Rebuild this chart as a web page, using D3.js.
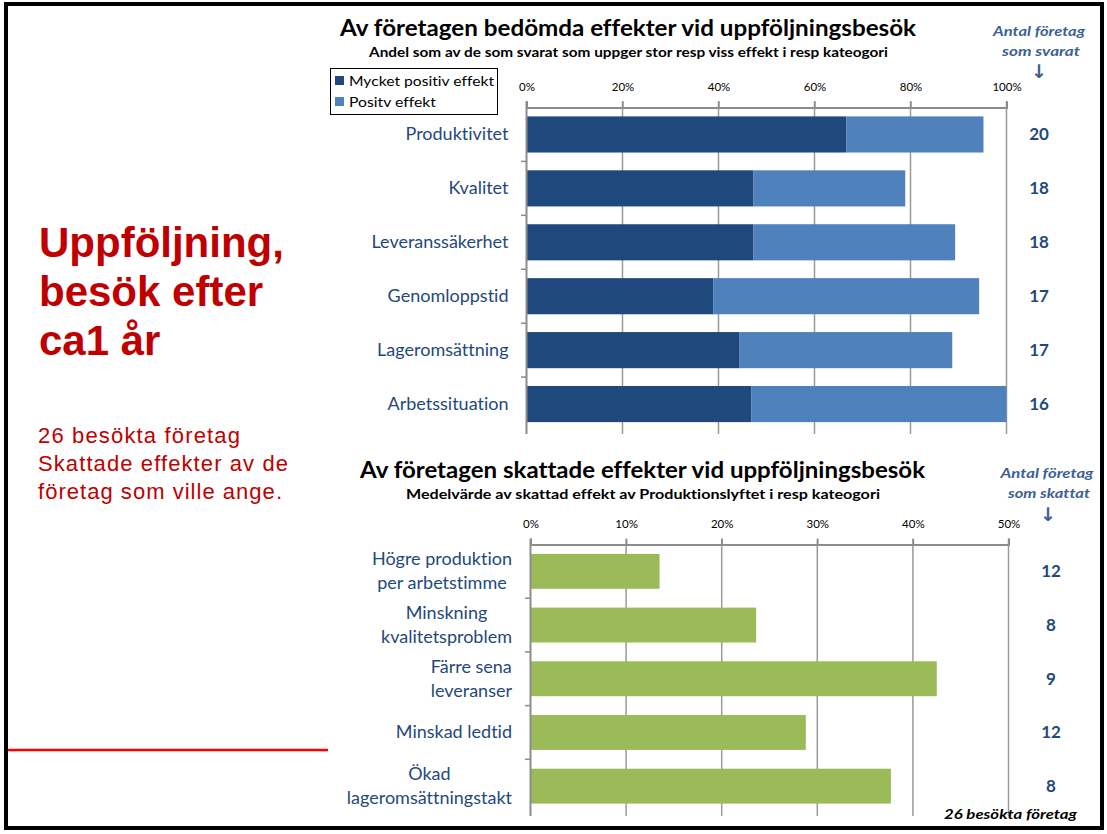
<!DOCTYPE html>
<html><head><meta charset="utf-8">
<script src="https://cdn.jsdelivr.net/npm/d3@7"></script>
<style>
html,body{margin:0;padding:0;background:#fff;}
svg{display:block;}
text{font-variant-ligatures:none;}
</style></head>
<body>
<svg id="c" width="1107" height="834"></svg>
<script>
// ---- data ----
const topCategories = ["Produktivitet","Kvalitet","Leveranssäkerhet","Genomloppstid","Lageromsättning","Arbetssituation"];
const veryPositive = [0.666, 0.473, 0.473, 0.389, 0.444, 0.468];
const positive     = [0.286, 0.316, 0.420, 0.554, 0.443, 0.532];
const topCounts    = [20, 18, 18, 17, 17, 16];
const topTicks     = [0, 0.2, 0.4, 0.6, 0.8, 1.0];
const seriesNames  = ["Mycket positiv effekt", "Positv effekt"];

const bottomCategories = [["Högre produktion","per arbetstimme"],["Minskning","kvalitetsproblem"],["Färre sena","leveranser"],["Minskad ledtid"],["Ökad","lageromsättningstakt"]];
const bottomValues = [0.135, 0.236, 0.425, 0.288, 0.377];
const bottomCounts = [12, 8, 9, 12, 8];
const bottomTicks  = [0, 0.1, 0.2, 0.3, 0.4, 0.5];

// ---- styling ----
const FONT = "Lato, 'Open Sans', sans-serif";
const DARK = "#1F497D", LIGHT = "#4F81BD", GREEN = "#9BBB59";
const LABEL = "#1F497D", HEAD = "#3B5F96";
const svg = d3.select("#c");

// frame
svg.append("rect").attr("x",6).attr("y",4).attr("width",1096).attr("height",824)
  .attr("fill","none").attr("stroke","#000").attr("stroke-width",4);
svg.append("line").attr("x1",8).attr("x2",328).attr("y1",750).attr("y2",750)
  .attr("stroke","#FF0000").attr("stroke-width",2.5);

// left text
const big = ["Uppföljning,","besök efter","ca1 år"];
svg.selectAll("text.big").data(big).join("text").attr("class","big")
  .attr("x",39).attr("y",(d,i)=>257+i*49)
  .attr("fill","#C00000").attr("font-family","'Liberation Sans', Arial, sans-serif")
  .attr("font-weight","bold").attr("font-size",42).text(d=>d);
const small = ["26 besökta företag","Skattade effekter av de","företag som ville ange."];
const smallW = [202, 250, 244];
svg.selectAll("text.small").data(small).join("text").attr("class","small")
  .attr("x",38).attr("y",(d,i)=>443+i*28)
  .attr("fill","#C00000").attr("font-family","'Liberation Sans', Arial, sans-serif")
  .attr("font-size",22).attr("textLength",(d,i)=>smallW[i]).attr("lengthAdjust","spacing").text(d=>d);

function title(t, x, y, size, w, color, italic){
  return svg.append("text").attr("x",x).attr("y",y).attr("text-anchor","middle")
    .attr("font-family",FONT).attr("font-weight","bold").attr("font-size",size)
    .attr("font-style",italic?"italic":"normal")
    .attr("fill",color||"#000").attr("textLength",w).attr("lengthAdjust","spacingAndGlyphs").text(t);
}
function arrow(x, y){
  svg.append("text").attr("x",x).attr("y",y).attr("text-anchor","middle").attr("fill",HEAD)
    .attr("font-family","'DejaVu Sans', sans-serif").attr("font-weight","bold").attr("font-size",19).text("↓");
}

// ---------- top chart ----------
const tx = d3.scaleLinear().domain([0,1]).range([526.5,1006.5]);
const ty = d3.scaleBand().domain(topCategories).range([107.5,431]).paddingInner(0.33).paddingOuter(0.165);
const tyTicks = d3.scaleBand().domain(topCategories).range([107.5,431]);

title("Av företagen bedömda effekter vid uppföljningsbesök", 628, 36, 23, 576);
title("Andel som av de som svarat som uppger stor resp viss effekt i resp kateogori", 628.5, 57, 13, 519);
title("Antal företag", 1039, 36, 14, 92, HEAD, true);
title("som svarat", 1041, 56, 14, 78, HEAD, true);
arrow(1039, 78);

// gridlines
const gTop = svg.append("g");
gTop.selectAll("line.grid").data(topTicks.slice(1)).join("line")
  .attr("x1",d=>tx(d)).attr("x2",d=>tx(d)).attr("y1",101).attr("y2",434)
  .attr("stroke","#9a9a9a").attr("stroke-width",1.5);
// x axis (top)
const axT = gTop.append("g").attr("transform","translate(0,107.5)")
  .call(d3.axisTop(tx).tickValues(topTicks).tickFormat(d3.format(".0%")).tickSize(6).tickPadding(11));
axT.select(".domain").attr("stroke","#8c8c8c").attr("stroke-width",2);
axT.selectAll(".tick line").attr("stroke","#8c8c8c").attr("stroke-width",1.5);
axT.selectAll("text").attr("font-family",FONT).attr("font-size",11.5).attr("fill","#000");

// bars
const stack = topCategories.map((c,i)=>({c, a:veryPositive[i], b:positive[i]}));
gTop.selectAll("rect.d").data(stack).join("rect")
  .attr("x",tx(0)).attr("y",d=>ty(d.c)).attr("width",d=>tx(d.a)-tx(0)).attr("height",ty.bandwidth())
  .attr("fill",DARK);
gTop.selectAll("rect.l").data(stack).join("rect")
  .attr("x",d=>tx(d.a)).attr("y",d=>ty(d.c)).attr("width",d=>tx(d.a+d.b)-tx(d.a)).attr("height",ty.bandwidth())
  .attr("fill",LIGHT);

// y axis
const ayT = gTop.append("g").attr("transform","translate(526.5,0)")
  .call(d3.axisLeft(tyTicks).tickSize(0).tickPadding(18));
ayT.select(".domain").attr("stroke","#8c8c8c").attr("stroke-width",2).attr("d","M0,101V434");
ayT.selectAll("text").attr("font-family",FONT).attr("font-size",18).attr("fill",LABEL);
gTop.selectAll("line.yt").data(topCategories.slice(1)).join("line")
  .attr("x1",521).attr("x2",526.5).attr("y1",d=>tyTicks(d)).attr("y2",d=>tyTicks(d))
  .attr("stroke","#8c8c8c").attr("stroke-width",1.5);

// counts
gTop.selectAll("text.cnt").data(topCategories).join("text")
  .attr("x",1039).attr("y",d=>ty(d)+ty.bandwidth()/2+6).attr("text-anchor","middle")
  .attr("font-family",FONT).attr("font-weight","bold").attr("font-size",17).attr("fill",LABEL)
  .text((d,i)=>topCounts[i]);

// legend
const lg = svg.append("g");
lg.append("rect").attr("x",330.5).attr("y",68.5).attr("width",167).attr("height",46)
  .attr("fill","#fff").attr("stroke","#000").attr("stroke-width",1);
lg.selectAll("rect.sw").data(seriesNames).join("rect")
  .attr("x",335).attr("y",(d,i)=>76+i*21).attr("width",9).attr("height",9)
  .attr("fill",(d,i)=>i?LIGHT:DARK);
lg.selectAll("text").data(seriesNames).join("text")
  .attr("x",349).attr("y",(d,i)=>86+i*21).attr("font-family",FONT).attr("font-size",13.5)
  .attr("fill","#000").attr("textLength",(d,i)=>i?87:145).attr("lengthAdjust","spacingAndGlyphs").text(d=>d);

// ---------- bottom chart ----------
const bx = d3.scaleLinear().domain([0,0.5]).range([530.5,1008.5]);
const bKeys = bottomCategories.map(d=>d.join(" "));
const by = d3.scaleBand().domain(bKeys).range([544.5,813]).paddingInner(0.35).paddingOuter(0.175);
const byTicks = d3.scaleBand().domain(bKeys).range([544.5,813]);

title("Av företagen skattade effekter vid uppföljningsbesök", 642.5, 478, 23, 565);
title("Medelvärde av skattad effekt av Produktionslyftet i resp kateogori", 643, 499, 13, 474);
title("Antal företag", 1047, 478, 14, 93, HEAD, true);
title("som skattat", 1049, 498, 14, 82, HEAD, true);
arrow(1048, 521);

const gB = svg.append("g");
gB.selectAll("line.grid").data(bottomTicks.slice(1)).join("line")
  .attr("x1",d=>bx(d)).attr("x2",d=>bx(d)).attr("y1",539).attr("y2",816)
  .attr("stroke","#9a9a9a").attr("stroke-width",1.5);
const axB = gB.append("g").attr("transform","translate(0,544.5)")
  .call(d3.axisTop(bx).tickValues(bottomTicks).tickFormat(d3.format(".0%")).tickSize(6).tickPadding(11));
axB.select(".domain").attr("stroke","#8c8c8c").attr("stroke-width",2);
axB.selectAll(".tick line").attr("stroke","#8c8c8c").attr("stroke-width",1.5);
axB.selectAll("text").attr("font-family",FONT).attr("font-size",11.5).attr("fill","#000");

gB.selectAll("rect.g").data(bKeys).join("rect")
  .attr("x",bx(0)).attr("y",d=>by(d)).attr("width",(d,i)=>bx(bottomValues[i])-bx(0)).attr("height",by.bandwidth())
  .attr("fill",GREEN);

gB.append("line").attr("x1",530.5).attr("x2",530.5).attr("y1",539).attr("y2",816)
  .attr("stroke","#8c8c8c").attr("stroke-width",2);
gB.selectAll("line.yt").data(bKeys.slice(1)).join("line")
  .attr("x1",525).attr("x2",530.5).attr("y1",d=>byTicks(d)).attr("y2",d=>byTicks(d))
  .attr("stroke","#8c8c8c").attr("stroke-width",1.5);

// multi-line category labels: lines centered within block, block right-aligned
bottomCategories.forEach((lines,i)=>{
  const key = bKeys[i];
  const cy = by(key)+by.bandwidth()/2;
  const lh = 24;
  const g = gB.append("g");
  const texts = lines.map((l,j)=>g.append("text")
    .attr("y", cy + (j-(lines.length-1)/2)*lh + 6)
    .attr("font-family",FONT).attr("font-size",18).attr("fill",LABEL).attr("text-anchor","middle").text(l));
  const w = Math.max(...texts.map(t=>t.node().getComputedTextLength()));
  const right = 512;
  texts.forEach(t=>t.attr("x", right - w/2));
});

gB.selectAll("text.cnt").data(bKeys).join("text")
  .attr("x",1051).attr("y",d=>by(d)+by.bandwidth()/2+6).attr("text-anchor","middle")
  .attr("font-family",FONT).attr("font-weight","bold").attr("font-size",17).attr("fill",LABEL)
  .text((d,i)=>bottomCounts[i]);

svg.append("text").attr("x",1077).attr("y",819).attr("text-anchor","end")
  .attr("font-family",FONT).attr("font-weight","bold").attr("font-style","italic").attr("font-size",14)
  .attr("fill","#000").attr("textLength",133).attr("lengthAdjust","spacingAndGlyphs").text("26 besökta företag");
</script>
</body></html>
